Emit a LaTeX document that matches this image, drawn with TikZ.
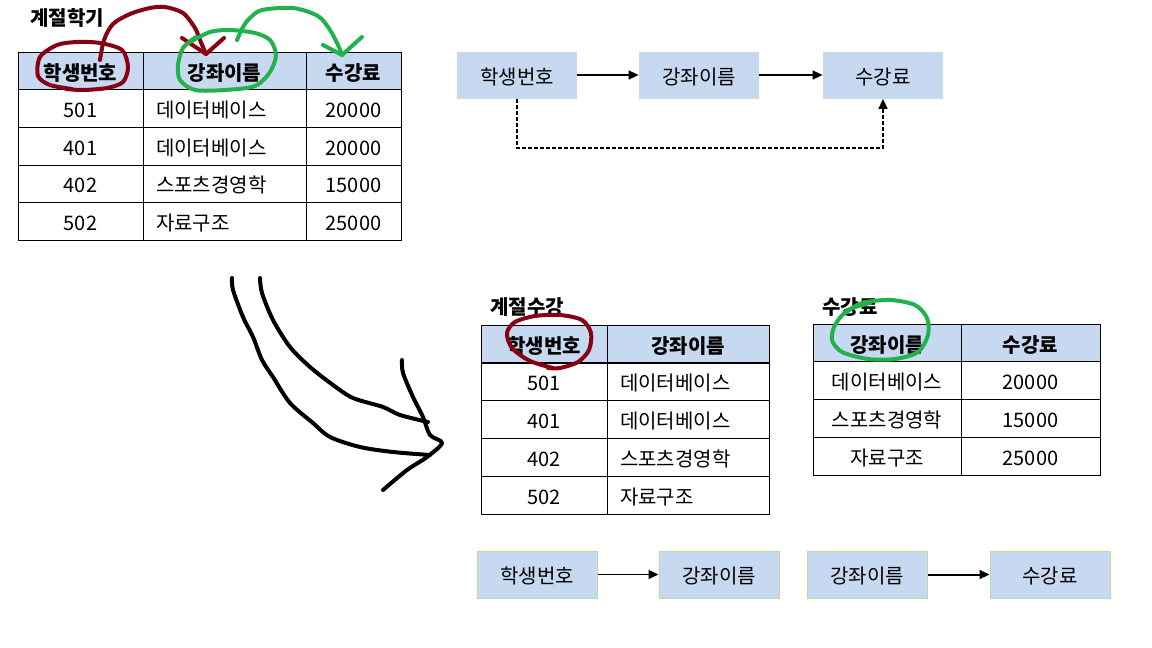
\documentclass[tikz,border=0pt]{standalone}
\usepackage{fontspec}
\setmainfont{Noto Sans CJK KR}
\usetikzlibrary{arrows.meta, positioning, calc}
\definecolor{headblue}{RGB}{198,217,241}
\definecolor{boxgreen}{RGB}{195,214,155}
\definecolor{penred}{RGB}{136,0,21}
\definecolor{pengreen}{RGB}{34,177,76}
\tikzstyle{cell} = [
    rectangle,
    draw=black,
    line width=0.5pt,
    inner sep=0pt,
    minimum height=18.8pt,
    text height=10.4pt,
    text depth=1.3pt,
    font=\fontsize{10}{12}\selectfont
]
\tikzstyle{headcell} = [cell, fill=headblue, font=\fontsize{10}{12}\selectfont\bfseries]
\tikzstyle{leftcell} = [cell, inner xsep=6.5pt, align=left]
\tikzstyle{title} = [anchor=west, inner sep=0pt, font=\fontsize{10}{12}\selectfont\bfseries]
\tikzstyle{attr} = [
    rectangle,
    fill=headblue,
    minimum width=60pt,
    minimum height=23.5pt,
    inner sep=0pt,
    text height=10.4pt,
    text depth=1.3pt,
    font=\fontsize{10}{12}\selectfont
]
\tikzstyle{arrow} = [
    line width=0.75pt,
    -{Triangle[length=5pt, width=4.5pt]}
]
\tikzstyle{pen} = [line width=2pt, line cap=round, line join=round]

\begin{document}
\begin{tikzpicture}[x=0.5pt, y=-0.5pt]
    \useasboundingbox (0,0) rectangle (1152,648);

    % Table: 계절학기
    \node[title] (title1) at (30,18) {계절학기};
    \node[headcell, minimum width=62.5pt] (h1-1) at (80.5,71) {학생번호};
    \node[headcell, minimum width=81.5pt] (h1-2) at (224.5,71) {강좌이름};
    \node[headcell, minimum width=47.5pt] (h1-3) at (353.5,71) {수강료};
    \foreach \sid/\course/\fee [count=\r] in {501/데이터베이스/20000, 401/데이터베이스/20000, 402/스포츠경영학/15000, 502/자료구조/25000} {
        \node[cell, minimum width=62.5pt] (a\r-1) at (80.5,71+37.6*\r) {\sid};
        \node[leftcell, text width=68.5pt] (a\r-2) at (224.5,71+37.6*\r) {\course};
        \node[cell, minimum width=47.5pt] (a\r-3) at (353.5,71+37.6*\r) {\fee};
    }

    % Dependencies (top)
    \node[attr] (t1) at (517,75) {학생번호};
    \node[attr] (t2) at (699,75) {강좌이름};
    \node[attr] (t3) at (883,75) {수강료};
    \draw[arrow] (t1) -- (t2);
    \draw[arrow] (t2) -- (t3);
    \draw[arrow, dash pattern=on 2pt off 1pt] (t1.south) -- ++(0,49) -| (t3.south);

    % Table: 계절수강
    \node[title] (title2) at (490,307) {계절수강};
    \node[headcell, minimum width=63pt] (h2-1) at (544,344) {학생번호};
    \node[headcell, minimum width=81pt] (h2-2) at (688,344) {강좌이름};
    \foreach \sid/\course [count=\r] in {501/데이터베이스, 401/데이터베이스, 402/스포츠경영학, 502/자료구조} {
        \node[cell, minimum width=63pt] (b\r-1) at (544,344+37.8*\r) {\sid};
        \node[leftcell, text width=68pt] (b\r-2) at (688,344+37.8*\r) {\course};
    }

    % Table: 수강료
    \node[title] (title3) at (822,307) {수강료};
    \node[headcell, minimum width=74pt] (h3-1) at (887,343) {강좌이름};
    \node[headcell, minimum width=69.5pt] (h3-2) at (1030.5,343) {수강료};
    \foreach \course/\fee [count=\r] in {데이터베이스/20000, 스포츠경영학/15000, 자료구조/25000} {
        \node[cell, minimum width=74pt] (c\r-1) at (887,343+37.75*\r) {\course};
        \node[cell, minimum width=69.5pt] (c\r-2) at (1030.5,343+37.75*\r) {\fee};
    }

    % Dependencies (bottom)
    \node[attr, draw=boxgreen, line width=0.5pt] (d1) at (537,574.5) {학생번호};
    \node[attr, draw=boxgreen, line width=0.5pt] (d2) at (719,574.5) {강좌이름};
    \node[attr, draw=boxgreen, line width=0.5pt] (d3) at (867,574.5) {강좌이름};
    \node[attr, draw=boxgreen, line width=0.5pt] (d4) at (1050,574.5) {수강료};
    \draw[arrow] (d1) -- (d2);
    \draw[arrow, line width=1pt] (d3) -- (d4);

    % Pen marks
    \draw[pen, penred] plot[smooth] coordinates {(72,89) (50,85) (38,76) (40,57) (57,45) (77,42) (100,43) (122,50) (128,67) (123,82) (107,88) (83,90) (66,89)};
    \draw[pen, penred] plot[smooth] coordinates {(100,60) (104,40) (113,24) (130,14) (150,8) (165,7) (183,13) (195,28) (200,40) (206,54)};
    \draw[pen, penred] (182,38) -- (206,54) -- (224,38);
    \draw[pen, pengreen] plot[smooth] coordinates {(196,37) (183,48) (178,65) (180,80) (195,90) (225,90) (255,86) (270,72) (276,55) (270,40) (255,33) (230,30) (210,32) (190,42)};
    \draw[pen, pengreen] plot[smooth] coordinates {(237,40) (243,27) (250,18) (262,10) (293,8) (318,16) (330,30) (338,45) (342,55)};
    \draw[pen, pengreen] (323,45) -- (342,55) -- (362,37);
    \draw[pen, penred] plot[smooth] coordinates {(553,368) (530,361) (512,348) (507,333) (515,322) (535,316) (560,315) (582,320) (591,333) (589,350) (578,362) (560,368) (548,368)};
    \draw[pen, pengreen] plot[smooth] coordinates {(870,303) (848,310) (835,325) (832,340) (842,352) (868,359) (895,359) (918,352) (928,335) (927,318) (915,305) (890,300) (862,303) (845,313)};

    % Hand-drawn arrow
    \draw[pen] plot[smooth] coordinates {(232,278) (233,290) (243,317) (253,337) (262,360) (273,377) (290,403) (313,423) (330,437) (360,447) (393,452) (430,455)};
    \draw[pen] plot[smooth] coordinates {(260,278) (262,293) (273,320) (290,347) (310,367) (333,385) (353,398) (383,407) (400,415) (428,422)};
    \draw[pen] plot[smooth] coordinates {(402,360) (403,373) (413,397) (423,417) (430,435) (442,443) (427,457) (407,470) (383,490)};
\end{tikzpicture}
\end{document}
